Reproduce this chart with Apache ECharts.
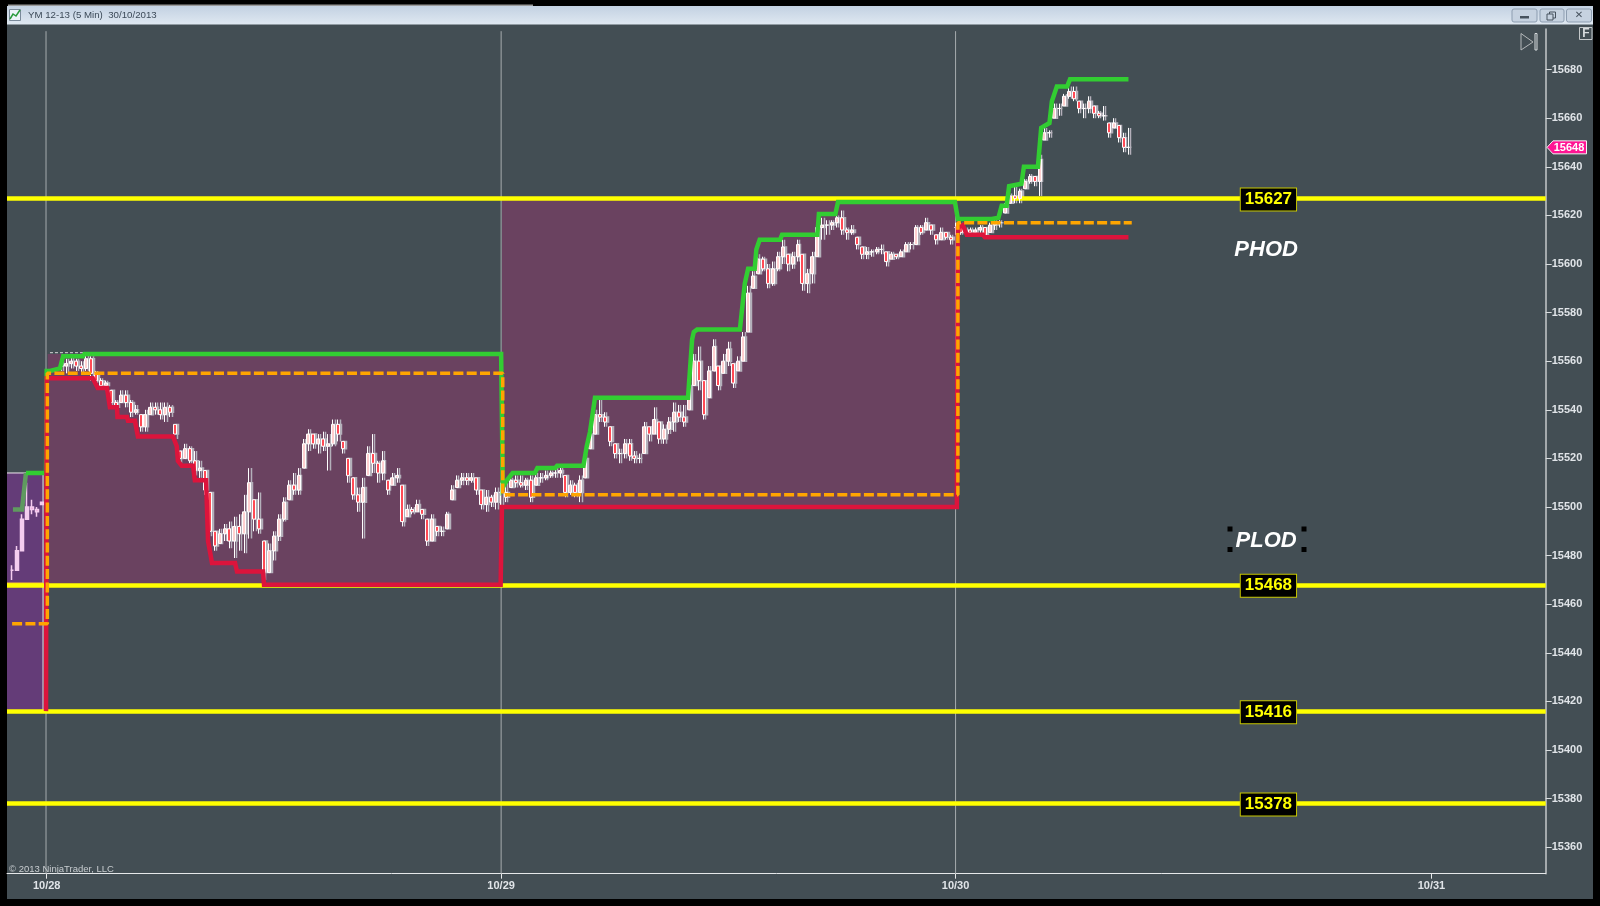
<!DOCTYPE html>
<html><head><meta charset="utf-8">
<style>html,body{margin:0;padding:0;background:#000}#c{width:1600px;height:906px}</style>
<script src="https://cdn.jsdelivr.net/npm/echarts@6/dist/echarts.min.js"></script>
</head><body><div id="c"></div>
<script>
const titleText = 'YM 12-13 (5 Min)  30/10/2013';
const priceTicks = [15360,15380,15400,15420,15440,15460,15480,15500,15520,15540,15560,15580,15600,15620,15640,15660,15680];
const dayTicks = [0,276,552,841];
const dayLabels = ['10/28','10/29','10/30','10/31'];
const xMin = -24.1, xMax = 910.4, yMin = 15349.1, yMax = 15696.7;
const levels = [15627,15468,15416,15378];
const lastPrice = 15648;
const candleStep = 3;

const preStart = -21;
const preLow  = [15470,15474,15482,15495,15497,15496,15501];
const preHigh = [15476,15484,15497,15510,15503,15500,15502];
const preClose= [15474,15482,15495,15500,15499,15498,15502];

const d28Start = 9;
const d28Low = [15556,15555,15557,15556,15555,15556,15552,15551,15549,15548,15541,15539,15543,15541,15537,15538,15531,15531,15538,15538,15536,15535,15537,15528,15518,15520,15518,15513,15512,15505,15488,15482,15485,15486,15483,15479,15482,15481,15487,15490,15489,15470,15473,15478,15486,15494,15503,15505,15505,15516,15523,15524,15522,15523,15515,15525,15527,15522,15510,15503,15498,15487,15513,15514,15510,15511,15505,15509,15510,15492,15496,15497,15498,15495,15484,15486,15488,15488,15491,15503,15508,15509,15509,15510,15505,15499,15498,15500,15499];
const d28High = [15560,15561,15562,15561,15560,15563,15562,15556,15553,15552,15548,15544,15548,15548,15544,15542,15538,15540,15543,15543,15543,15543,15542,15534,15523,15526,15525,15523,15519,15515,15506,15490,15491,15493,15494,15496,15497,15505,15516,15503,15506,15486,15485,15490,15497,15504,15511,15514,15516,15528,15532,15530,15530,15531,15530,15536,15536,15527,15520,15512,15508,15512,15525,15530,15519,15523,15511,15514,15516,15509,15501,15500,15503,15499,15495,15497,15492,15492,15498,15509,15513,15514,15514,15514,15512,15507,15507,15505,15508];
const d28Close = [15558,15559,15560,15558,15557,15561,15555,15552,15550,15551,15543,15541,15546,15543,15539,15540,15533,15538,15541,15540,15538,15541,15539,15530,15520,15524,15519,15515,15516,15507,15490,15484,15489,15491,15486,15492,15489,15498,15510,15495,15491,15473,15482,15488,15495,15502,15509,15507,15513,15526,15530,15526,15528,15525,15526,15534,15530,15524,15513,15505,15502,15508,15522,15518,15514,15519,15507,15512,15513,15494,15499,15498,15501,15497,15486,15495,15490,15490,15497,15507,15511,15512,15511,15512,15507,15501,15504,15502,15506];

const d29Start = 276;
const d29Low = [15500,15502,15508,15508,15508,15507,15502,15509,15510,15511,15512,15512,15512,15504,15505,15504,15502,15512,15524,15530,15535,15533,15525,15520,15518,15520,15519,15518,15518,15522,15527,15530,15526,15526,15530,15531,15535,15533,15540,15550,15548,15536,15545,15556,15548,15555,15558,15549,15556,15560,15572,15590,15596,15597,15590,15591,15597,15600,15597,15598,15601,15589,15588,15592,15603,15610,15612,15614,15615,15612,15610,15612,15606,15602,15602,15603,15604,15604,15599,15602,15602,15603,15605,15606,15608,15612,15614,15612,15608,15610,15610,15608];
const d29High = [15510,15510,15512,15513,15513,15512,15513,15514,15514,15515,15515,15516,15517,15513,15511,15510,15513,15522,15532,15540,15544,15539,15533,15526,15524,15528,15528,15523,15522,15535,15533,15541,15535,15534,15537,15543,15542,15542,15552,15563,15566,15552,15558,15569,15558,15563,15568,15559,15562,15572,15591,15597,15604,15603,15600,15601,15605,15610,15604,15605,15610,15604,15598,15605,15617,15619,15618,15618,15620,15622,15615,15616,15611,15607,15607,15606,15607,15608,15605,15605,15604,15606,15609,15609,15616,15616,15619,15616,15612,15615,15613,15612];
const d29Close = [15506,15504,15511,15510,15509,15511,15504,15512,15512,15513,15514,15514,15515,15506,15509,15506,15511,15520,15530,15538,15537,15535,15527,15522,15522,15526,15521,15520,15520,15533,15530,15536,15528,15532,15535,15539,15537,15535,15550,15560,15552,15538,15556,15566,15550,15560,15565,15551,15560,15570,15588,15595,15602,15598,15592,15598,15603,15607,15600,15603,15608,15592,15596,15603,15615,15616,15616,15617,15619,15614,15613,15614,15608,15604,15605,15605,15606,15606,15601,15604,15603,15605,15608,15608,15615,15613,15617,15614,15610,15613,15611,15610];

const d30Start = 552;
const d30Low = [15612,15612,15612,15612,15612,15612,15611,15613,15614,15615,15621,15625,15625,15625,15631,15633,15632,15628,15651,15652,15660,15661,15665,15668,15667,15662,15660,15662,15660,15660,15659,15652,15656,15650,15646,15645];
const d30High = [15617,15617,15615,15615,15615,15616,15615,15617,15618,15618,15625,15629,15632,15631,15635,15637,15636,15645,15656,15655,15666,15666,15670,15673,15673,15667,15666,15669,15665,15663,15665,15658,15660,15657,15654,15656];
const d30Close = [15615,15613,15614,15613,15614,15615,15612,15616,15617,15617,15624,15628,15627,15630,15634,15636,15634,15643,15654,15654,15664,15664,15669,15671,15668,15664,15664,15667,15662,15661,15661,15654,15658,15652,15648,15648];

const preGreenBars = [-20.5,-15,-12.6];
const preGreenVals = [15499,15499,15514];
const greenBars = [-12.6,-0.4,0,2,8,10,22,23,276,277,279.5,283,296.5,298,308.7,310,326,328,330,333,389.5,392,393,395,421,424,426,430,431,433,445.4,446.6,468,469,479,480.6,551.6,553.4,574,578,580,583,584.5,592,593.5,602,604,609,610.5,613.5,619.7,621.5,657];
const greenVals = [15514,15514,15556,15556,15557,15562,15562,15563,15563,15508,15511,15514,15514,15516,15516,15517,15517,15525,15531,15545,15545,15569,15572,15573,15573,15592,15598,15598,15606,15610,15610,15612,15612,15620.6,15620.6,15625.5,15625.5,15618.5,15618.5,15619,15624,15624,15632,15633,15640,15640,15656,15658,15667,15673,15673,15676,15676];
const redBars = [-0.4,0,2,28,31,36.6,38.4,42.7,43,48.8,49.4,53.6,55.4,76.7,79,79.7,82,88.9,90,96.8,98,100.4,114.4,115.6,131.4,132,275.7,276.5,552.8,553.4,556.4,558.8,568.6,569.8,657];
const redVals = [15416,15553,15553,15553,15549,15549,15541,15541,15537,15537,15535.5,15535.5,15529,15529,15525,15519,15517,15517,15511,15511,15486,15477,15477,15473.5,15473.5,15468,15468,15500,15500,15615,15616,15612,15612,15611,15611];
const orangeBars = [-21,-2,0.4,0.4,277,277,553.4,553.4,659];
const orangeVals = [15452,15452,15452,15555,15555,15505,15505,15617,15617];

const boxStart = [xMin,0.6,276.5];
const boxEnd = [-2.2,276.5,553.4];
const boxTop = [15514,15563,15627];
const boxBottom = [15416,15468,15500];
const boxColors = ['#643c78','#6a4260','#6a4260'];

const sessionSeparators = [-0.4,276,552];
const separatorTop = 15695.8;
const notes = [{bar:740.6,price:15605.8,text:'PHOD'},{bar:740.6,price:15486.1,text:'PLOD'}];
const levelLabelBar = 742;

function candles(start, low, high, close){
  return low.map((l,i)=>{
    const o = Math.min(high[i],Math.max(l, i? close[i-1] : close[i]));
    return [start+candleStep*i, o, close[i], l, high[i]];
  });
}
function pairs(a,b){return a.map((x,i)=>[x,b[i]]);}
const allCandles = [].concat(candles(d28Start,d28Low,d28High,d28Close),candles(d29Start,d29Low,d29High,d29Close),candles(d30Start,d30Low,d30High,d30Close));
const font = '"Liberation Sans",Arial,sans-serif';
function lineS(name,data,color,width,z,extra){
  return Object.assign({name,type:'line',data,showSymbol:false,symbol:'none',silent:true,z,animation:false,
    lineStyle:{color,width,join:'miter'}},extra||{});
}
const chart = echarts.init(document.getElementById('c'),null,{renderer:'canvas',width:1600,height:906});
const series = [
  {type:'line',data:[],z:1,silent:true,animation:false,
    markArea:{silent:true,animation:false,data:boxStart.map((s,i)=>[
      {xAxis:s,yAxis:boxTop[i],itemStyle:{color:boxColors[i],opacity:1}},
      {xAxis:boxEnd[i],yAxis:boxBottom[i]}])}},
  ...sessionSeparators.map((x,i)=>lineS('separator'+i,[[x,yMin],[x,separatorTop]],'#a6abae',1,2)),
  {type:'line',data:[],z:3,silent:true,animation:false,
    markLine:{silent:true,animation:false,symbol:'none',label:{show:false},
      lineStyle:{color:'#ffff00',width:4.5,type:'solid'},
      data:levels.map(v=>({yAxis:v}))}},
  lineS('preBoxOutlineTop',pairs([xMin,-2.2,-2.2],[15514,15514,15416]),'#f0eaf0',1,3.5),
  lineS('preLevel',pairs([xMin,-2.2],[15468,15468]),'#fbbf3a',4.5,3.6),
  lineS('preLow',pairs([xMin,-2.2],[15415.5,15415.5]),'#e03050',1.5,3.6),
  lineS('box1Top',pairs([2,22],[15563.5,15563.5]),'#d8d8d8',1,3.6,{lineStyle:{color:'#d8d8d8',width:1,type:[3,2]}}),
  {name:'gray',type:'candlestick',z:4,silent:true,animation:false,barWidth:3,
    data:allCandles.map(c=>[c[0]+1.3,c[1],c[2],c[3],c[4]]),encode:{x:0,y:[1,2,3,4]},
    itemStyle:{color:'#b4b0ba',color0:'#b4b0ba',borderColor:'#b4b0ba',borderColor0:'#b4b0ba',borderWidth:1.5}},
  {name:'YM',type:'candlestick',z:5,silent:true,animation:false,barWidth:3.5,
    data:allCandles,encode:{x:0,y:[1,2,3,4]},
    itemStyle:{color:'#ffd0d0',color0:'#ff4a55',borderColor:'#ffffff',borderColor0:'#ffffff',borderWidth:1}},
  {name:'pre',type:'candlestick',z:5,silent:true,animation:false,barWidth:3.5,
    data:candles(preStart,preLow,preHigh,preClose),encode:{x:0,y:[1,2,3,4]},
    itemStyle:{color:'#f4cdef',color0:'#f4a0d8',borderColor:'#f4cdef',borderColor0:'#f4cdef',borderWidth:1.5}},
  lineS('preGreen',pairs(preGreenBars,preGreenVals),'#5f9a5f',4.5,6),
  lineS('green',pairs(greenBars,greenVals),'#32cd32',4.5,7),
  lineS('red',pairs(redBars,redVals),'#dc143c',4.5,8),
  lineS('orange',pairs(orangeBars,orangeVals),'#ffa500',3.5,9,{lineStyle:{color:'#ffa500',width:3.5,type:[10,3.3]}}),
  {name:'levelLabels',type:'scatter',z:10,silent:true,animation:false,symbolSize:1,itemStyle:{color:'rgba(0,0,0,0)',opacity:1},
    data:levels.map(v=>[levelLabelBar,v]),
    label:{show:true,position:'inside',opacity:1,offset:[0,1],formatter:p=>String(p.value[1]),color:'#ffff00',fontFamily:font,fontWeight:'bold',fontSize:17,
      backgroundColor:'#000',borderColor:'#c8c800',borderWidth:1,padding:[3,4,2,4]}},
  {name:'notes',type:'scatter',z:10,silent:true,animation:false,symbolSize:1,itemStyle:{color:'rgba(0,0,0,0)',opacity:1},
    data:notes.map(n=>({value:[n.bar,n.price],name:n.text})),
    label:{show:true,position:'inside',opacity:1,formatter:p=>p.name,color:'#fff',fontFamily:font,fontWeight:'bold',fontStyle:'italic',fontSize:22,
      textShadowColor:'#2a5cc0',textShadowBlur:0,textShadowOffsetX:-1,textShadowOffsetY:0}}
];
const dark='#434e54';
const sq=(x,y)=>({type:'rect',shape:{x:x-2.5,y:y-2.5,width:5,height:5},style:{fill:'#000'},z:20});
const option = {
  animation:false,
  backgroundColor:'#000',
  grid:{left:7,right:54.3,top:29,bottom:32.3,containLabel:false},
  xAxis:{type:'value',min:xMin,max:xMax,splitLine:{show:false},
    axisLine:{onZero:false,lineStyle:{color:'#e6e8ea',width:1}},
    axisTick:{customValues:dayTicks,length:5,lineStyle:{color:'#e6e8ea',width:1}},
    axisLabel:{customValues:dayTicks,formatter:v=>dayLabels[dayTicks.indexOf(v)],color:'#e0e4e8',fontFamily:font,fontWeight:'bold',fontSize:11,margin:7}},
  yAxis:{type:'value',position:'right',min:yMin,max:yMax,scale:true,splitLine:{show:false},
    axisLine:{show:true,onZero:false,lineStyle:{color:'#c4c8ca',width:1.5}},
    axisTick:{show:true,customValues:priceTicks,length:6,lineStyle:{color:'#d8dcde',width:1}},
    axisLabel:{customValues:priceTicks,formatter:v=>String(v),color:'#e0e4e8',fontFamily:font,fontWeight:'bold',fontSize:11,margin:6,padding:[2,0,0,0]}},
  series,
  graphic:[
    {type:'rect',z:-100,shape:{x:7,y:24,width:1586,height:875},style:{fill:dark}},
    {type:'rect',z:30,shape:{x:7,y:6,width:1586,height:18.5},style:{fill:new echarts.graphic.LinearGradient(0,0,0,1,[{offset:0,color:'#c3d1e2'},{offset:1,color:'#dfe8f1'}])}},
    {type:'rect',z:30,shape:{x:8,y:4.5,width:525,height:1.5},style:{fill:'#9a9a9a'}},
    {type:'rect',z:31,shape:{x:9.5,y:9.5,width:11,height:11},style:{fill:'#eef3f8',stroke:'#7a8a9a',lineWidth:1}},
    {type:'polyline',z:32,shape:{points:[[10,19],[13,14],[16,16],[20,10]]},style:{stroke:'#2a9a3a',lineWidth:1.5,fill:null}},
    {type:'text',z:31,style:{x:28,y:15.5,text:titleText,font:'9.7px '+font,fill:'#3c4a58',textVerticalAlign:'middle'}},
    ...[[1512,25],[1540,24],[1566.5,25]].map(b=>({type:'rect',z:31,shape:{x:b[0],y:9,width:b[1],height:13,r:2},style:{fill:'#c6d2e0',stroke:'#8d9db0',lineWidth:1}})),
    {type:'rect',z:32,shape:{x:1520,y:16,width:9,height:2.5},style:{fill:'#47525e'}},
    {type:'rect',z:32,shape:{x:1549.5,y:12,width:6,height:6},style:{fill:'none',stroke:'#47525e',lineWidth:1}},
    {type:'rect',z:32,shape:{x:1547,y:14,width:6,height:6},style:{fill:'#c6d2e0',stroke:'#47525e',lineWidth:1}},
    {type:'text',z:32,style:{x:1579,y:15.5,text:'✕',font:'bold 10px "DejaVu Sans"',fill:'#47525e',textAlign:'center',textVerticalAlign:'middle'}},
    {type:'rect',z:20,shape:{x:1579.5,y:27.5,width:12.5,height:12},style:{fill:dark,stroke:'#c4c8ca',lineWidth:1}},
    {type:'text',z:21,style:{x:1585.8,y:34,text:'F',font:'bold 12px '+font,fill:'#d8dcde',textAlign:'center',textVerticalAlign:'middle'}},
    {type:'polygon',z:20,shape:{points:[[1521,33.5],[1533,42],[1521,50]]},style:{fill:'none',stroke:'#b4b8ba',lineWidth:1}},
    {type:'rect',z:20,shape:{x:1535,y:33.5,width:2,height:16.5},style:{fill:dark,stroke:'#d8dcde',lineWidth:1}},
    {type:'text',z:20,style:{x:9,y:869,text:'© 2013 NinjaTrader, LLC',font:'9.5px '+font,fill:'#c8cdd0',textVerticalAlign:'middle'}},
    sq(1230,529),sq(1304,529),sq(1230,549.5),sq(1304,549.5)
  ]
};
chart.setOption(option);
const py = chart.convertToPixel({yAxisIndex:0},lastPrice);
chart.setOption({graphic:option.graphic.concat([
  {type:'polygon',z:25,shape:{points:[[1547,py],[1553,py-6.5],[1586.5,py-6.5],[1586.5,py+6.5],[1553,py+6.5]]},style:{fill:'#ff1493',stroke:'#f4f4f4',lineWidth:1}},
  {type:'text',z:26,style:{x:1569,y:py+0.5,text:String(lastPrice),font:'bold 11px '+font,fill:'#fff',textAlign:'center',textVerticalAlign:'middle'}}
])});
</script></body></html>
